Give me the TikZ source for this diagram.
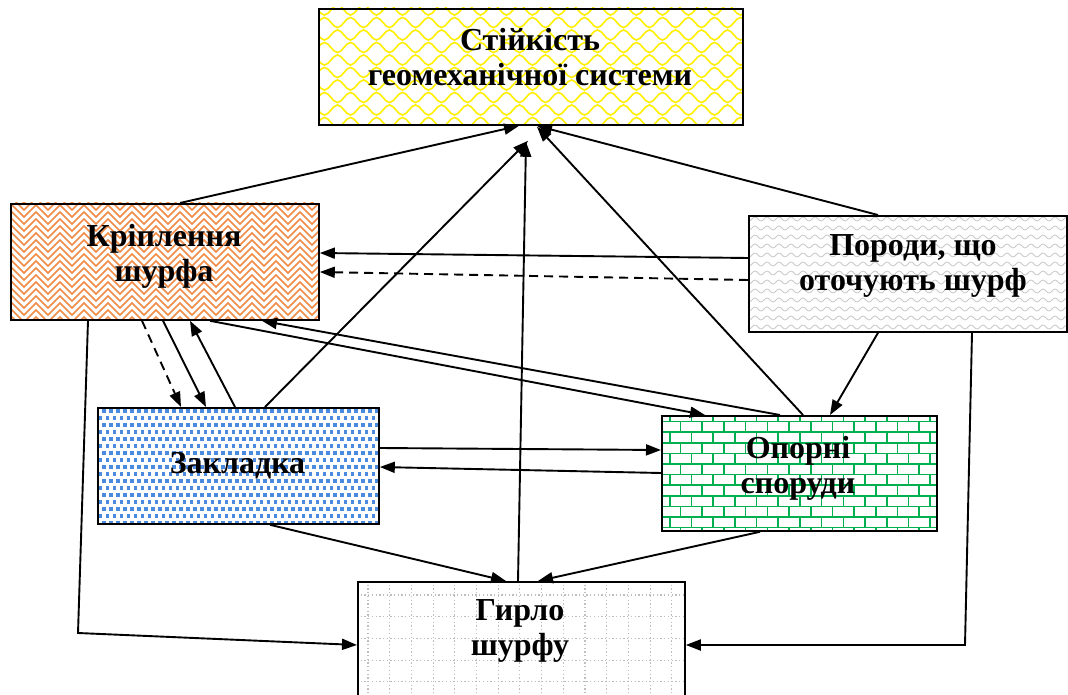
\documentclass[tikz,border=0pt]{standalone}
\usepackage{fontspec}
\setmainfont{Liberation Serif}
\usetikzlibrary{arrows.meta,calc}
\definecolor{ylw}{RGB}{255,240,0}
\definecolor{org}{RGB}{240,140,70}
\definecolor{blu}{RGB}{75,138,222}
\definecolor{grn}{RGB}{0,176,80}
\definecolor{wav}{RGB}{200,200,200}
\definecolor{dgrid}{RGB}{190,190,190}
\begin{document}
\begin{tikzpicture}[x=1pt,y=-1pt,
  box/.style={draw=black, line width=1.8pt, anchor=north west, inner sep=0pt},
  lbl/.style={align=center, inner sep=0pt, font=\fontsize{32}{35}\selectfont\bfseries},
  arr/.style={line width=1.9pt, -{Triangle[length=15pt,width=11pt]}},
  darr/.style={arr, dash pattern=on 9pt off 6pt}]
\clip (0,0) rectangle (1068,695);
\fill[white] (0,0) rectangle (1068,695);

% ---- patterns ----
\begin{scope}
  \clip (318,8) rectangle (742,124);
  \foreach \r in {0,...,10} {
    \pgfmathsetmacro\yy{10+\r*12.5}
    \pgfmathsetmacro\xx{305-mod(\r,2)*13}
    \draw[ylw, line width=1.6pt] (\xx,\yy) \foreach \k in {1,...,18} { sin ++(6.5,-5) cos ++(6.5,5) sin ++(6.5,5) cos ++(6.5,-5) };
  }
\end{scope}
\begin{scope}
  \clip (10,203) rectangle (318,319);
  \foreach \r in {-2,...,19} {
    \draw[org, line width=1.7pt] (0,{203+\r*7}) \foreach \k in {1,...,14} { -- ++(12,-12) -- ++(12,12) };
  }
\end{scope}
\begin{scope}
  \clip (748,215) rectangle (1066,331);
  \foreach \r in {0,...,13} {
    \draw[wav, line width=0.8pt] (740,{219+\r*9}) \foreach \k in {1,...,28} { sin ++(3,-2) cos ++(3,2) sin ++(3,2) cos ++(3,-2) };
  }
\end{scope}
\begin{scope}
  \clip (97,407) rectangle (378,523);
  \foreach \r in {0,...,16} {
    \foreach \c in {0,...,40} {
      \fill[blu] ({95+\c*7+mod(\r,2)*3.5}, {409+\r*7}) rectangle ++(3.7,3.7);
    }
  }
\end{scope}
\begin{scope}
  \clip (661,415) rectangle (936,530);
  \foreach \r in {0,...,11} {
    \pgfmathsetmacro\yy{411+\r*10.6}
    \draw[grn, line width=1.6pt] (655,\yy) -- (940,\yy);
    \foreach \c in {0,...,13} {
      \pgfmathsetmacro\xv{648+\c*21.7+mod(\r,2)*10.85}
      \draw[grn, line width=1.6pt] (\xv,\yy) -- (\xv,\yy+10.6);
    }
  }
\end{scope}
\begin{scope}
  \clip (357,581) rectangle (684,700);
  \foreach \c in {0,...,15} {
    \draw[dgrid, line width=1.1pt, dash pattern=on 1.3pt off 2.4pt] ({368+\c*21.7},581) -- ({368+\c*21.7},700);
  }
  \foreach \r in {0,...,5} {
    \draw[dgrid, line width=1.1pt, dash pattern=on 1.3pt off 2.4pt] (357,{595+\r*21.7}) -- (684,{595+\r*21.7});
  }
\end{scope}

% ---- boxes ----
\node[box, minimum width=424pt, minimum height=116pt] (st) at (318,8) {};
\node[box, minimum width=308pt, minimum height=116pt] (kr) at (10,203) {};
\node[box, minimum width=318pt, minimum height=116pt] (po) at (748,215) {};
\node[box, minimum width=281pt, minimum height=116pt] (za) at (97,407) {};
\node[box, minimum width=275pt, minimum height=115pt] (op) at (661,415) {};
\node[box, minimum width=327pt, minimum height=130pt] (gy) at (357,581) {};

\node[lbl] (stT) at (530,57) {Стійкість\\геомеханічної системи};
\node[lbl] (krT) at (164,256) {Кріплення\\шурфа};
\node[lbl] (poT) at (913,266) {Породи, що\\оточують шурф};
\node[lbl] (zaT) at (237.5,466) {Закладка};
\node[lbl] (opT) at (798,468) {Опорні\\споруди};
\node[lbl] (gyT) at (520,631) {Гирло\\шурфу};

% ---- connectors ----
\draw[arr] ($(kr.north west)+(170,0)$) -- ($(st.south west)+(201,0)$);
\draw[arr] ($(po.north west)+(130,0)$) -- ($(st.south west)+(219,0)$);
\draw[arr] ($(op.north west)+(142,0)$) -- ($(st.south west)+(219,1)$);
\draw[arr] ($(za.north west)+(168,0)$) -- ($(st.south west)+(210,15)$);
\draw[arr] ($(gy.north west)+(161,0)$) -- ($(st.south west)+(208,16)$);

\draw[arr] ($(po.north west)+(0,43)$) -- ($(kr.north east)+(0,50)$);
\draw[darr] ($(po.north west)+(0,65)$) -- ($(kr.north east)+(0,69)$);

\draw[darr] ($(kr.south west)+(132,0)$) -- ($(za.north west)+(84,0)$);
\draw[arr] ($(kr.south west)+(153,0)$) -- ($(za.north west)+(109,0)$);
\draw[arr] ($(za.north west)+(138,0)$) -- ($(kr.south west)+(180,0)$);

\draw[arr] ($(kr.south west)+(200,0)$) -- ($(op.north west)+(44,0)$);
\draw[arr] ($(op.north west)+(119,0)$) -- ($(kr.south west)+(252,0)$);

\draw[arr] ($(za.north east)+(0,41)$) -- ($(op.north west)+(0,35)$);
\draw[arr] ($(op.north west)+(0,58)$) -- ($(za.north east)+(0,60)$);

\draw[arr] ($(po.south west)+(130,0)$) -- ($(op.north west)+(169,0)$);

\draw[arr] ($(za.south west)+(173,0)$) -- ($(gy.north west)+(149,0)$);
\draw[arr] ($(op.south west)+(99,0)$) -- ($(gy.north west)+(181,0)$);

\coordinate (cl) at (78,633);
\coordinate (cr) at (965,645);
\draw[arr] ($(kr.south west)+(78,0)$) -- (cl) -- ($(gy.north west)+(0,64)$);
\draw[arr] ($(po.south west)+(224,0)$) -- (cr) -- ($(gy.north east)+(0,64)$);
\end{tikzpicture}
\end{document}
